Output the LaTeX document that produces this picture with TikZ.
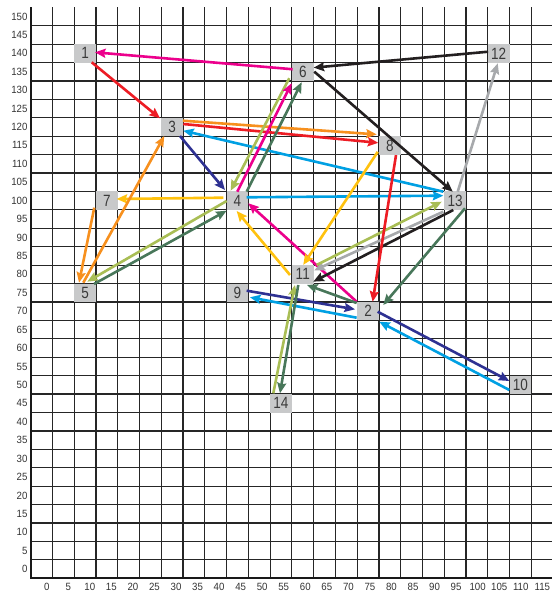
\documentclass[tikz,border=0pt]{standalone}
\usepackage{fontspec}
\setmainfont{Liberation Sans}
\newfontfamily\nodefont[FakeStretch=0.83]{Liberation Sans}
\newfontfamily\axisfont[FakeStretch=0.92]{Liberation Sans}
\usetikzlibrary{arrows.meta}
\definecolor{cMag}{HTML}{EC008C}
\definecolor{cRed}{HTML}{ED1C24}
\definecolor{cOra}{HTML}{F7901E}
\definecolor{cCya}{HTML}{00A0E3}
\definecolor{cNav}{HTML}{2E3192}
\definecolor{cYel}{HTML}{FFC20E}
\definecolor{cOli}{HTML}{A9BE55}
\definecolor{cDkg}{HTML}{48775A}
\definecolor{cBlk}{HTML}{231F20}
\definecolor{cGry}{HTML}{A7A9AC}
\definecolor{boxgray}{HTML}{C8C9CA}
\definecolor{boxtext}{HTML}{3A3A3A}
\tikzset{
  gridline/.style={draw=black!85,line width=1.2pt},
  axisline/.style={draw=black!90,line width=2pt},
  lbl/.style={font=\axisfont\fontsize{10.5}{11}\selectfont,text=black!80,inner sep=0pt},
  cell/.style={rectangle,fill=boxgray,minimum width=21.77pt,minimum height=18.42pt,inner sep=0pt,
    font=\nodefont\fontsize{16.3}{16}\selectfont,text=boxtext},
  arr/.style={line width=2.6pt,-{Stealth[length=10.5pt,width=9pt,inset=1.5pt]}}
}
\newcommand\arrowlink[5]{\draw[arr,#1] ([shift={(#3)}]#2.center) -- ([shift={(#5)}]#4.center);}
\begin{document}
\begin{tikzpicture}
\useasboundingbox (0,0) rectangle (552pt,595pt);
\fill[white] (0,0) rectangle (552pt,595pt);
\begin{scope}[shift={(41.58pt,25.91pt)},x=4.353pt,y=3.684pt]
  % grid
  \foreach \k in {1,...,30} \draw[gridline] (-2.5,{-2.5+5*\k}) -- (117.4,{-2.5+5*\k});
  \foreach \j in {1,...,23} \draw[gridline] ({-2.5+5*\j},-2.5) -- ({-2.5+5*\j},152.5);
  \draw[axisline] (-2.5,152.5) -- (-2.5,-2.5) -- (117.4,-2.5);
  % axis labels
  \foreach \v in {0,5,...,150} \node[lbl,anchor=east] at (-3.2,\v) {\v};
  \foreach \v in {0,5,...,115} \node[lbl] at ({\v*0.99+1.18},-4.86) {\v};
  % nodes
  \node[cell] (n1) at (10,140) {1};
  \node[cell] (n2) at (75,70) {2};
  \node[cell] (n3) at (30,120) {3};
  \node[cell] (n4) at (45,100) {4};
  \node[cell] (n5) at (10,75) {5};
  \node[cell] (n6) at (60,135) {6};
  \node[cell] (n7) at (15,100) {7};
  \node[cell] (n8) at (80,115) {8};
  \node[cell] (n9) at (45,75) {9};
  \node[cell] (n10) at (110,50) {10};
  \node[cell] (n11) at (60,80) {11};
  \node[cell] (n12) at (105,140) {12};
  \node[cell] (n13) at (95,100) {13};
  \node[cell] (n14) at (55,45) {14};
  % connectors
  \arrowlink{cMag}{n6}{-10.1pt,2.5pt}{n1}{9.9pt,1.0pt}
  \arrowlink{cRed}{n1}{6.6pt,-9.0pt}{n3}{-12.2pt,8.7pt}
  \arrowlink{cOra}{n3}{10.8pt,6.3pt}{n8}{-13.1pt,11.0pt}
  \arrowlink{cRed}{n3}{11.1pt,3.0pt}{n8}{-11.5pt,2.6pt}
  \arrowlink{cCya}{n13}{-11.8pt,9.0pt}{n3}{11.1pt,-3.7pt}
  \arrowlink{cNav}{n3}{7.8pt,-9.0pt}{n4}{-12.5pt,10.7pt}
  \arrowlink{cYel}{n4}{-14.2pt,3.0pt}{n7}{9.8pt,1.7pt}
  \arrowlink{cOra}{n7}{-12.6pt,-7.0pt}{n5}{-6.1pt,10.1pt}
  \arrowlink{cOra}{n5}{-1.8pt,10.1pt}{n3}{-7.9pt,-9.0pt}
  \arrowlink{cOli}{n4}{-10.8pt,-0.3pt}{n5}{2.2pt,11.1pt}
  \arrowlink{cDkg}{n5}{8.9pt,8.8pt}{n4}{-10.8pt,-10.0pt}
  \arrowlink{cOli}{n6}{-13.5pt,-6.5pt}{n4}{-6.8pt,10.0pt}
  \arrowlink{cMag}{n4}{-0.2pt,9.0pt}{n6}{-11.1pt,-11.5pt}
  \arrowlink{cDkg}{n4}{9.2pt,9.0pt}{n6}{-1.1pt,-10.5pt}
  \arrowlink{cCya}{n4}{9.2pt,3.4pt}{n13}{-11.8pt,5.0pt}
  \arrowlink{cMag}{n2}{-11.4pt,9.5pt}{n4}{10.8pt,-2.6pt}
  \arrowlink{cYel}{n8}{-12.1pt,-6.4pt}{n11}{0.5pt,9.5pt}
  \arrowlink{cYel}{n11}{-12.8pt,-0.6pt}{n4}{-0.8pt,-10.3pt}
  \arrowlink{cBlk}{n6}{11.5pt,0.1pt}{n13}{-2.4pt,9.0pt}
  \arrowlink{cBlk}{n12}{-10.6pt,1.6pt}{n6}{10.9pt,4.1pt}
  \arrowlink{cGry}{n13}{2.6pt,9.0pt}{n12}{-0.9pt,-10.0pt}
  \arrowlink{cGry}{n13}{-11.8pt,-11.0pt}{n11}{11.5pt,4.0pt}
  \arrowlink{cOli}{n11}{13.9pt,9.4pt}{n13}{-13.4pt,-1.0pt}
  \arrowlink{cBlk}{n13}{-1.8pt,-9.3pt}{n11}{10.5pt,-7.3pt}
  \arrowlink{cDkg}{n13}{9.9pt,-7.6pt}{n2}{15.2pt,6.2pt}
  \arrowlink{cRed}{n8}{6.2pt,-9.7pt}{n2}{4.6pt,9.5pt}
  \arrowlink{cNav}{n9}{9.2pt,2.1pt}{n2}{-13.1pt,1.9pt}
  \arrowlink{cCya}{n2}{-11.4pt,-6.5pt}{n9}{12.5pt,-4.5pt}
  \arrowlink{cNav}{n2}{9.6pt,-0.5pt}{n10}{-11.1pt,3.9pt}
  \arrowlink{cCya}{n10}{-11.1pt,-5.1pt}{n2}{11.2pt,-10.5pt}
  \arrowlink{cDkg}{n2}{-11.4pt,8.2pt}{n11}{4.2pt,-10.6pt}
  \arrowlink{cOli}{n14}{-7.7pt,10.0pt}{n11}{-7.8pt,-10.6pt}
  \arrowlink{cDkg}{n11}{-4.5pt,-10.6pt}{n14}{-1.0pt,10.0pt}
\end{scope}
\end{tikzpicture}
\end{document}
